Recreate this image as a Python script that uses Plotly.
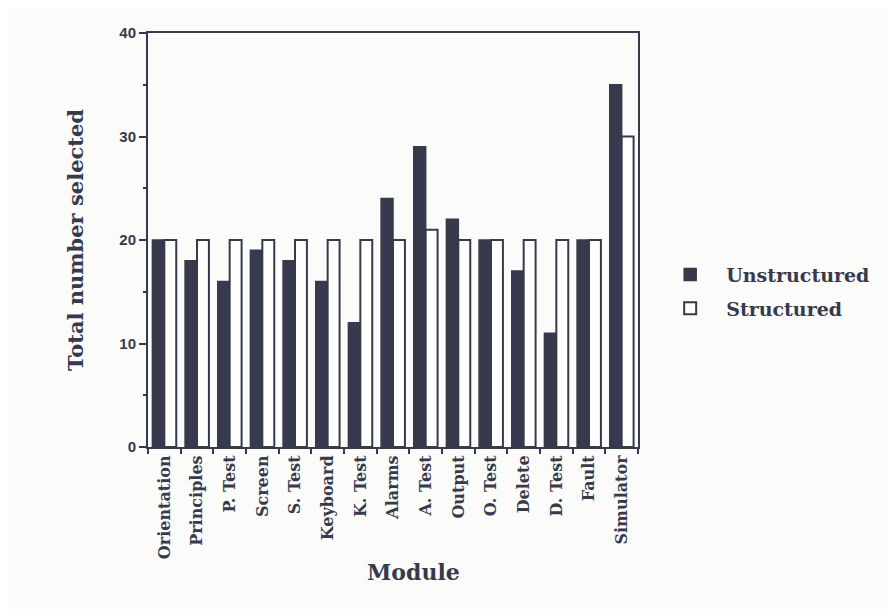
import plotly.graph_objects as go

modules = ["Orientation", "Principles", "P. Test", "Screen", "S. Test", "Keyboard",
           "K. Test", "Alarms", "A. Test", "Output", "O. Test", "Delete",
           "D. Test", "Fault", "Simulator"]
unstructured = [20, 18, 16, 19, 18, 16, 12, 24, 29, 22, 20, 17, 11, 20, 35]
structured = [20, 20, 20, 20, 20, 20, 20, 20, 21, 20, 20, 20, 20, 20, 30]

ink = "#363a4c"
serif = "DejaVu Serif"

fig = go.Figure()
fig.add_trace(go.Bar(x=modules, y=unstructured, name="Unstructured", legendgroup="u",
                     marker=dict(color=ink, line=dict(color=ink, width=1.5))))
fig.add_trace(go.Bar(x=modules, y=structured, name="Structured", legendgroup="s",
                     marker=dict(color="white", line=dict(color=ink, width=2))))

fig.update_layout(
    width=887, height=601,
    margin=dict(l=140, r=257, t=25, b=162),
    paper_bgcolor="#fbfbfa", plot_bgcolor="#fbfbfa",
    barmode="group", bargap=0.27, bargroupgap=0,
    showlegend=True,
    legend=dict(x=1.033, y=0.375, xanchor="left", yanchor="middle",
                font=dict(family=serif, size=19, color=ink, weight="bold"),
                bgcolor="rgba(0,0,0,0)", tracegroupgap=6, itemwidth=62),
    font=dict(family=serif, color=ink),
    annotations=[dict(text="Module", xref="paper", yref="paper", x=0.541, y=-0.302,
                      xanchor="center", yanchor="middle", showarrow=False,
                      font=dict(family=serif, size=22, color=ink, weight="bold"))],
)
fig.update_xaxes(
    type="category", tickangle=-90, tickson="boundaries",
    ticks="outside", ticklen=5, tickwidth=1.5, tickcolor=ink,
    showline=True, linecolor=ink, linewidth=2, mirror=True,
    showgrid=False,
    tickfont=dict(family=serif, size=16, color=ink, weight="bold"),
)
fig.update_yaxes(
    range=[0, 40], tickvals=[0, 10, 20, 30, 40],
    ticks="outside", ticklen=7, tickwidth=1.5, tickcolor=ink,
    minor=dict(tickvals=[5, 15, 25, 35], ticks="outside", ticklen=3, tickcolor=ink, tickwidth=1.5),
    showline=True, linecolor=ink, linewidth=2, mirror=True,
    showgrid=False, zeroline=False,
    tickfont=dict(family="Liberation Sans", size=15, color=ink, weight="bold"),
    title=dict(text="Total number selected", font=dict(family=serif, size=21, color=ink, weight="bold"), standoff=30),
)

fig.write_html("out.html")
